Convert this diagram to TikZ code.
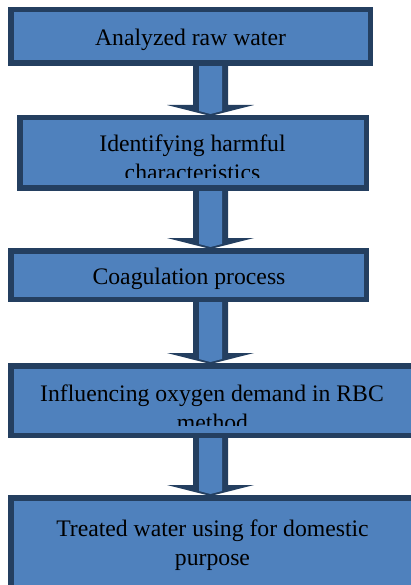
\documentclass[tikz,border=0pt]{standalone}
\usepackage{fontspec}
\setmainfont{Liberation Serif}
\usetikzlibrary{calc}
\pgfdeclarelayer{bg}
\pgfsetlayers{bg,main}
\definecolor{boxfill}{RGB}{79,129,189}
\definecolor{boxline}{RGB}{36,63,96}
\newcommand\flowarrow[2]{%
  \begin{pgfonlayer}{bg}
  \fill[arrowedge] let \p0=(axis), \p1=(#1.south), \p2=(#2.north) in
    (\x0-17.5pt,\y1+6pt) -- (\x0-17.5pt,\y2+10pt) -- (\x0-43.5pt,\y2+10pt)
    -- (\x0,\y2-1pt) -- (\x0+43.5pt,\y2+10pt) -- (\x0+17.5pt,\y2+10pt)
    -- (\x0+17.5pt,\y1+6pt) -- cycle;
  \fill[arrowbody] let \p0=(axis), \p1=(#1.south), \p2=(#2.north) in
    (\x0-11.5pt,\y1+6pt) -- (\x0-11.5pt,\y2+4pt) -- (\x0,\y2+1pt)
    -- (\x0+11.5pt,\y2+4pt) -- (\x0+11.5pt,\y1+6pt) -- cycle;
  \end{pgfonlayer}}
\begin{document}
\begin{tikzpicture}[x=1pt,y=-1pt,
  flowbox/.style={rectangle, draw=boxline, fill=boxfill, line width=5.5pt, inner sep=0pt},
  flowtext/.style={inner sep=0pt, text=black, anchor=base, font=\fontsize{23.7}{28.7}\selectfont},
  arrowedge/.style={fill=boxline},
  arrowbody/.style={fill=boxfill}]
\useasboundingbox (0,0) rectangle (411,585);
\begin{scope}
\clip (0,0) rectangle (411,585);
\coordinate (axis) at (210.5,0);
% boxes
\node[flowbox, minimum width=359.5pt, minimum height=53.5pt] (b1) at (190.5,36.5) {};
\node[flowbox, minimum width=346.5pt, minimum height=70.5pt] (b2) at (193,153) {};
\node[flowbox, minimum width=355.5pt, minimum height=48.5pt] (b3) at (188.5,275) {};
\node[flowbox, minimum width=419.25pt, minimum height=69.5pt] (b4) at (220.375,400.5) {};
\node[flowbox, minimum width=419.25pt, minimum height=122.25pt] (b5) at (220.375,558.875) {};
% arrows
\flowarrow{b1}{b2}
\flowarrow{b2}{b3}
\flowarrow{b3}{b4}
\flowarrow{b4}{b5}
% texts
\node[flowtext] (t1) at (190.5,46) {Analyzed raw water};
\begin{scope}
\clip (0,115) rectangle (411,177.3);
\node[flowtext] (t2a) at (192.5,151.7) {Identifying harmful};
\node[flowtext] (t2b) at (192.5,180.5) {characteristics};
\end{scope}
\node[flowtext] (t3) at (189,284.3) {Coagulation process};
\begin{scope}
\clip (0,363) rectangle (411,425);
\node[flowtext] (t4a) at (212,401.7) {Influencing oxygen demand in RBC};
\node[flowtext] (t4b) at (212.5,430.3) {method};
\end{scope}
\node[flowtext] (t5a) at (212.5,536.7) {Treated water using for domestic};
\node[flowtext] (t5b) at (212.5,565) {purpose};
\end{scope}
\end{tikzpicture}
\end{document}
